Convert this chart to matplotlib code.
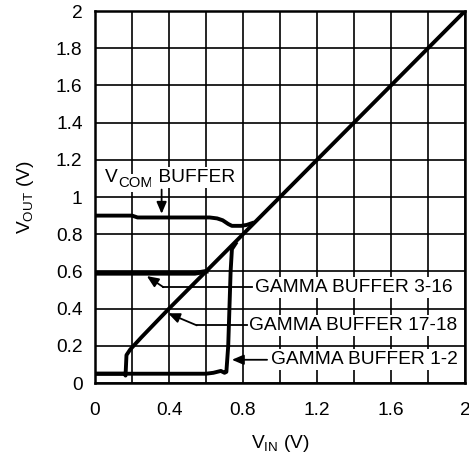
import matplotlib
matplotlib.use("Agg")
import matplotlib.pyplot as plt

plt.rcParams['font.family'] = ['Liberation Sans', 'DejaVu Sans']
plt.rcParams['mathtext.fontset'] = 'custom'
plt.rcParams['mathtext.rm'] = 'Liberation Sans'
plt.rcParams['mathtext.it'] = 'Liberation Sans'

# Data
vcom_x = [0, 0.20, 0.23, 0.62, 0.66, 0.69, 0.72, 0.74, 0.79, 0.82, 0.85]
vcom_y = [0.90, 0.90, 0.89, 0.89, 0.885, 0.875, 0.855, 0.845, 0.845, 0.85, 0.86]

g316_x = [0, 0.54, 0.57, 0.60]
g316_y = [0.59, 0.59, 0.595, 0.60]

g1718_x = [0, 0.16, 0.165, 0.17, 0.19, 0.25, 0.40, 0.60, 0.80, 1.00, 1.20, 1.40, 1.60, 1.80, 2.00]
g1718_y = [0.05, 0.05, 0.04, 0.15, 0.18, 0.245, 0.40, 0.60, 0.80, 1.00, 1.20, 1.40, 1.60, 1.80, 2.00]

g12_x = [0, 0.60, 0.64, 0.68, 0.70, 0.71, 0.72, 0.733, 0.74, 0.76]
g12_y = [0.05, 0.05, 0.055, 0.065, 0.055, 0.06, 0.20, 0.60, 0.72, 0.75]

x_ticks = [0, 0.4, 0.8, 1.2, 1.6, 2]
x_labels = ['0', '0.4', '0.8', '1.2', '1.6', '2']
y_ticks = [0, 0.2, 0.4, 0.6, 0.8, 1, 1.2, 1.4, 1.6, 1.8, 2]
y_labels = ['0', '0.2', '0.4', '0.6', '0.8', '1', '1.2', '1.4', '1.6', '1.8', '2']

fig = plt.figure(figsize=(4.69, 4.55), dpi=100)
ax = fig.add_axes([0.2026, 0.1582, 0.7889, 0.8176])
ax.set_xlim(0, 2)
ax.set_ylim(0, 2)

ax.set_xticks(x_ticks)
ax.set_xticklabels(x_labels)
ax.set_xticks([0.2, 0.6, 1.0, 1.4, 1.8], minor=True)
ax.set_yticks(y_ticks)
ax.set_yticklabels(y_labels)
ax.tick_params(axis='both', which='both', length=0, labelsize=13.8)
ax.tick_params(axis='y', pad=9)
ax.tick_params(axis='x', pad=14)
ax.grid(True, which='both', color='black', linewidth=1.2)
ax.set_axisbelow(True)
for s in ax.spines.values():
    s.set_linewidth(1.8)

lw = 2.8
ax.plot(g1718_x, g1718_y, color='black', lw=lw, solid_joinstyle='round', zorder=3)
ax.plot(g12_x, g12_y, color='black', lw=lw, solid_joinstyle='round', zorder=3)
ax.plot(g316_x, g316_y, color='black', lw=3.4, zorder=3)
ax.plot(vcom_x, vcom_y, color='black', lw=lw, solid_joinstyle='round', zorder=3)

fs = 13.8
bbox = dict(facecolor='white', edgecolor='none', pad=1.5)
tv = ax.text(0.055, 1.08, 'V', fontsize=fs, va='baseline', ha='left', bbox=bbox, zorder=4)
tc = ax.annotate('COM', xy=(1, 0), xycoords=tv, xytext=(0, -3), textcoords='offset points',
                 fontsize=fs * 0.78, va='bottom', ha='left', bbox=bbox, zorder=4)
fig.canvas.draw()
bb = tc.get_window_extent()
ax.annotate(' BUFFER', xy=(bb.x1, tv.get_window_extent().y0), xycoords='figure pixels',
            fontsize=fs, va='bottom', ha='left', bbox=bbox, zorder=4)

ax.text(0.865, 0.515, 'GAMMA BUFFER 3-16', fontsize=fs, va='center', ha='left', bbox=bbox, zorder=4)
ax.text(0.83, 0.31, 'GAMMA BUFFER 17-18', fontsize=fs, va='center', ha='left', bbox=bbox, zorder=4)
ax.text(0.95, 0.125, 'GAMMA BUFFER 1-2', fontsize=fs, va='center', ha='left', bbox=bbox, zorder=4)

arrowprops = dict(arrowstyle='-|>,head_length=0.7,head_width=0.3', color='black', lw=1.3, shrinkA=0, shrinkB=0)
# VCOM arrow
ax.annotate('', xy=(0.36, 0.91), xytext=(0.36, 1.04), arrowprops=arrowprops, zorder=5)
# 3-16 arrow
ax.plot([0.85, 0.37], [0.515, 0.515], color='black', lw=1.3, zorder=5)
ax.annotate('', xy=(0.28, 0.575), xytext=(0.37, 0.515), arrowprops=arrowprops, zorder=5)
# 17-18 arrow
ax.plot([0.82, 0.55], [0.31, 0.31], color='black', lw=1.3, zorder=5)
ax.annotate('', xy=(0.395, 0.375), xytext=(0.55, 0.31), arrowprops=arrowprops, zorder=5)
# 1-2 arrow
ax.annotate('', xy=(0.74, 0.125), xytext=(0.93, 0.125), arrowprops=arrowprops, zorder=5)

ax.set_xlabel(r'V$_{\mathrm{IN}}$ (V)', fontsize=fs, labelpad=10)
ax.set_ylabel(r'V$_{\mathrm{OUT}}$ (V)', fontsize=fs, labelpad=14)

fig.savefig('out.png', dpi=100)
